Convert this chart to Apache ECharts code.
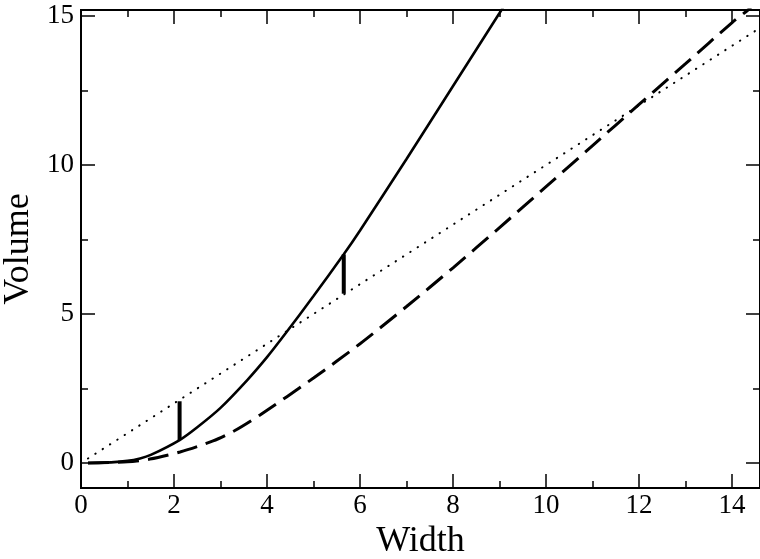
<!DOCTYPE html>
<html>
<head>
<meta charset="utf-8">
<script src="https://cdn.jsdelivr.net/npm/echarts@6/dist/echarts.min.js"></script>
<style>html,body{margin:0;padding:0;background:#fff}#c{width:760px;height:559px}</style>
</head>
<body>
<div id="c"></div>
<script>
// ---- data ----
const solidX = [0.15, 0.5, 1.0, 1.27, 1.5, 2.12, 2.5, 3.0, 3.58, 4.0, 4.4, 5.0, 5.65, 6.0, 7.0, 8.0, 9.0, 9.6];
const solidY = [0.0, 0.01, 0.07, 0.15, 0.27, 0.77, 1.2, 1.85, 2.79, 3.55, 4.35, 5.6, 7.0, 7.8, 10.2, 12.65, 15.1, 16.6];
const dashX = [0.15, 1.0, 1.48, 2.13, 2.84, 3.3, 3.85, 5.0, 6.0, 7.0, 8.0, 9.0, 10.0, 11.0, 12.0, 12.62, 13.0, 14.0, 14.34, 14.6];
const dashY = [0.0, 0.04, 0.13, 0.37, 0.74, 1.08, 1.61, 2.85, 4.0, 5.25, 6.55, 7.9, 9.27, 10.65, 12.03, 12.88, 13.4, 14.78, 15.2, 15.6];
const dotX = [0.15, 14.6];
const dotY = [0.15, 14.6];
const bar1X = [2.12, 2.12];
const bar1Y = [0.77, 2.07];
const bar2X = [5.65, 5.65];
const bar2Y = [5.68, 7.0];
const xMajor = [0, 2, 4, 6, 8, 10, 12, 14];
const xMinor = [1, 3, 5, 7, 9, 11, 13];
const yMajor = [0, 5, 10, 15];
const yMinor = [2.5, 7.5, 12.5];
const X_MIN = 0, X_MAX = 14.6, Y_MIN = -0.84, Y_MAX = 15.2;

const zip = (a, b) => a.map((v, i) => [v, b[i]]);
const FONT = '"Liberation Serif", "DejaVu Serif", serif';

function xAx(pos, ticks, len, labels, name) {
  return {
    type: 'value', position: pos, min: X_MIN, max: X_MAX,
    axisLine: { show: true, onZero: false, lineStyle: { color: '#000', width: 2 } },
    axisTick: { show: true, inside: true, length: len, customValues: ticks, lineStyle: { color: '#000', width: 1.5 } },
    axisLabel: labels ? { show: true, customValues: ticks, color: '#000', fontFamily: FONT, fontSize: 27, margin: 4 } : { show: false },
    splitLine: { show: false },
    name: name || '', nameLocation: 'middle', nameGap: 28,
    nameTextStyle: { color: '#000', fontFamily: FONT, fontSize: 36 }
  };
}
function yAx(pos, ticks, len, labels, name) {
  return {
    type: 'value', position: pos, min: Y_MIN, max: Y_MAX,
    axisLine: { show: true, onZero: false, lineStyle: { color: '#000', width: 2 } },
    axisTick: { show: true, inside: true, length: len, customValues: ticks, lineStyle: { color: '#000', width: 1.5 } },
    axisLabel: labels ? { show: true, customValues: ticks, color: '#000', fontFamily: FONT, fontSize: 27, margin: 7 } : { show: false },
    splitLine: { show: false },
    name: name || '', nameLocation: 'middle', nameGap: 36, nameRotate: 90,
    nameTextStyle: { color: '#000', fontFamily: FONT, fontSize: 36 }
  };
}

const chart = echarts.init(document.getElementById('c'), null, { renderer: 'canvas' });
const lineBase = { type: 'line', symbol: 'none', smooth: false, silent: true, animation: false, xAxisIndex: 0, yAxisIndex: 0 };
chart.setOption({
  animation: false,
  backgroundColor: '#fff',
  grid: { left: 81, right: 0, top: 10, bottom: 71, containLabel: false, outerBoundsMode: 'none' },
  xAxis: [
    xAx('bottom', xMajor, 14, true, 'Width'),
    xAx('top', xMajor, 14, false),
    xAx('bottom', xMinor, 7, false),
    xAx('top', xMinor, 7, false)
  ],
  yAxis: [
    yAx('left', yMajor, 14, true, 'Volume'),
    yAx('right', yMajor, 14, false),
    yAx('left', yMinor, 7, false),
    yAx('right', yMinor, 7, false)
  ],
  series: [
    Object.assign({}, lineBase, { data: zip(dotX, dotY), lineStyle: { color: '#000', width: 2, cap: 'round', type: [0.4, 8.3] } }),
    Object.assign({}, lineBase, { data: zip(dashX, dashY), smooth: 0.25, lineStyle: { color: '#000', width: 3, type: [21, 9] } }),
    Object.assign({}, lineBase, { data: zip(solidX, solidY), smooth: 0.25, lineStyle: { color: '#000', width: 2.6 } }),
    Object.assign({}, lineBase, { data: zip(bar1X, bar1Y), lineStyle: { color: '#000', width: 4, cap: 'butt' } }),
    Object.assign({}, lineBase, { data: zip(bar2X, bar2Y), lineStyle: { color: '#000', width: 4, cap: 'butt' } })
  ]
});
</script>
</body>
</html>
